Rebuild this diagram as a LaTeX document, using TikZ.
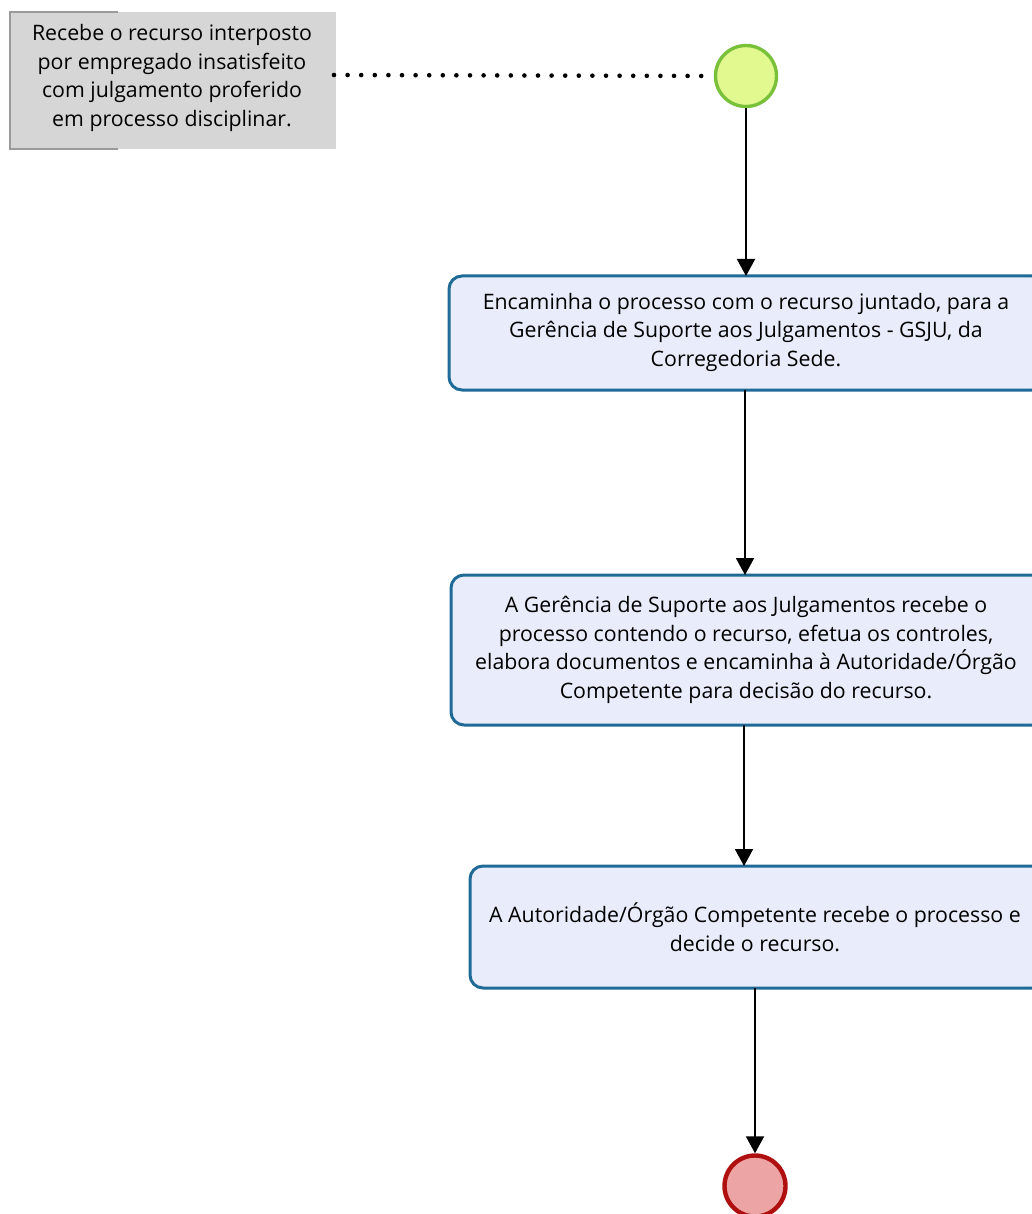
\documentclass[tikz,border=0pt]{standalone}
\usepackage{fontspec}
\setmainfont{Open Sans}
\usetikzlibrary{arrows.meta}
\definecolor{noteFill}{HTML}{D6D6D6}
\definecolor{noteEdge}{HTML}{9A9A9A}
\definecolor{taskFill}{HTML}{E9ECFB}
\definecolor{taskEdge}{HTML}{1F6A96}
\definecolor{startFill}{HTML}{E2F98F}
\definecolor{startEdge}{HTML}{79C13A}
\definecolor{endFill}{HTML}{ECA4A4}
\definecolor{endEdge}{HTML}{B00F0F}
\tikzset{
  txt/.style={font=\fontsize{21.3}{28.5}\selectfont, align=center, inner sep=0pt},
  task/.style={draw=taskEdge, line width=3pt, fill=taskFill, rounded corners=13pt},
  flow/.style={line width=1.9pt, -{Triangle[width=18pt,length=17pt]}},
}
\begin{document}
\begin{tikzpicture}[x=1pt,y=-1pt]
\useasboundingbox (0,0) rectangle (1032,1214);
\begin{scope}
\clip (0,0) rectangle (1032,1214);

% annotation
\fill[noteFill] (10,12) rectangle (336,149);
\draw[noteEdge, line width=1.4pt] (118,12) -- (10,12) -- (10,149) -- (118,149);
\node[txt] (note) at (172,78) {Recebe o recurso interposto\\por empregado insatisfeito\\com julgamento proferido\\em processo disciplinar.};
\coordinate (noteR) at (334,75);

% start event
\node[circle, draw=startEdge, fill=startFill, line width=3.4pt, minimum size=61pt, inner sep=0pt] (start) at (746,76) {};

% tasks
\draw[task] (449,276) rectangle (1045,390);
\coordinate (t1top) at (746,276);
\coordinate (t1bot) at (745,390);
\node[txt] (t1) at (746,332) {Encaminha o processo com o recurso juntado, para a\\Gerência de Suporte aos Julgamentos - GSJU, da\\Corregedoria Sede.};

\draw[task] (451,575) rectangle (1045,725);
\coordinate (t2top) at (745,575);
\coordinate (t2bot) at (744,725);
\node[txt] (t2) at (746,650) {A Gerência de Suporte aos Julgamentos recebe o\\processo contendo o recurso, efetua os controles,\\elabora documentos e encaminha à Autoridade/Órgão\\Competente para decisão do recurso.};

\draw[task] (470,866) rectangle (1045,988);
\coordinate (t3top) at (744,866);
\coordinate (t3bot) at (755,988);
\node[txt] (t3) at (755,927) {A Autoridade/Órgão Competente recebe o processo e\\decide o recurso.};

% end event
\node[circle, draw=endEdge, fill=endFill, line width=4.4pt, minimum size=61pt, inner sep=0pt] (end) at (755,1186) {};

% connectors
\draw[line width=4.6pt, dash pattern=on 0pt off 13.6pt, line cap=round] (noteR) -- (start.west);
\draw[flow] (start.south) -- (t1top);
\draw[flow] (t1bot) -- (t2top);
\draw[flow] (t2bot) -- (t3top);
\draw[flow] (t3bot) -- (end.north);
\end{scope}
\end{tikzpicture}
\end{document}
